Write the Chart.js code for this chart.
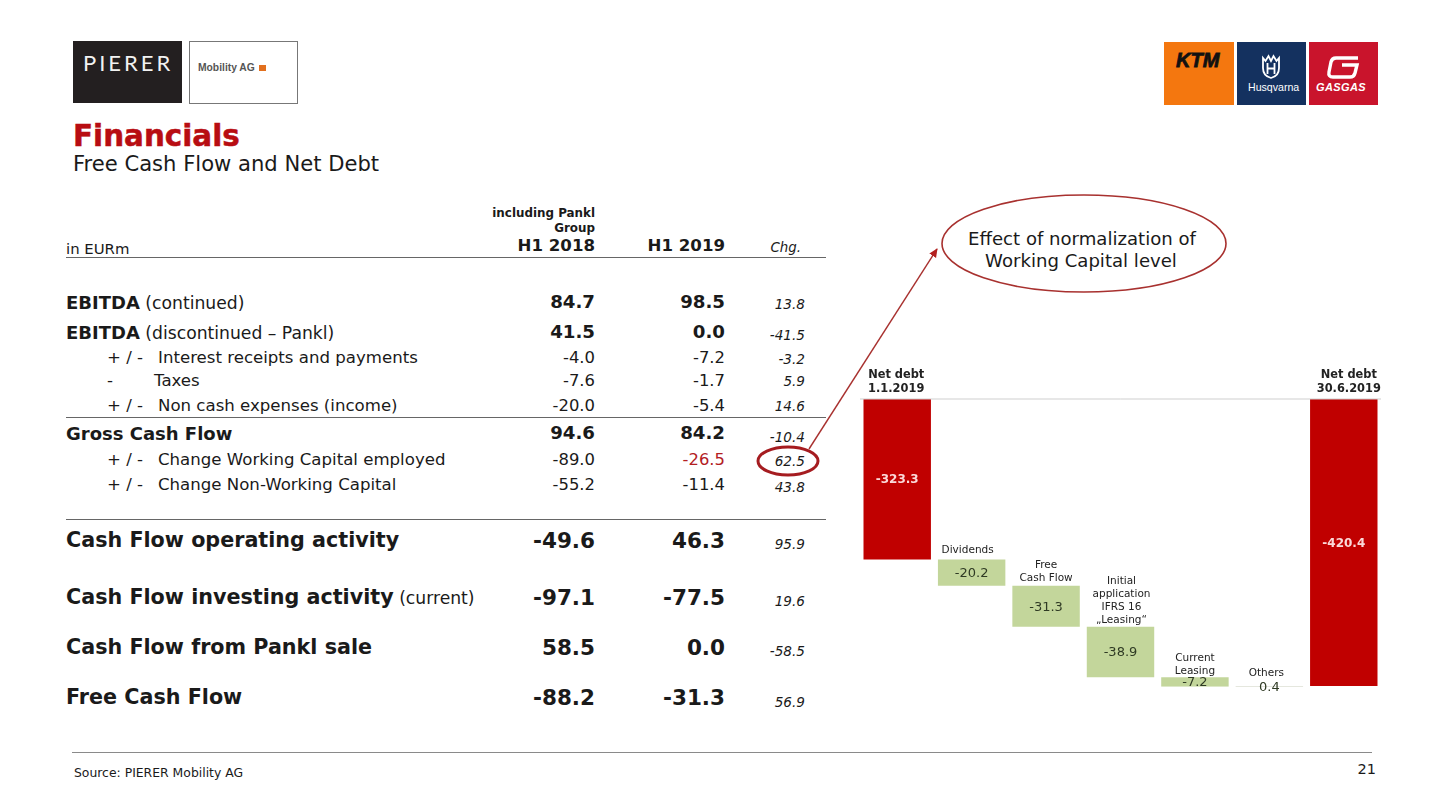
<!DOCTYPE html>
<html>
<head>
<meta charset="utf-8">
<title>Financials</title>
<script src="https://cdn.jsdelivr.net/npm/chart.js@4"></script>
<style>
  html, body { margin: 0; padding: 0; background: #fff; }
  #slide { position: relative; width: 1440px; height: 810px; overflow: hidden; font-family: "DejaVu Sans", Verdana, sans-serif; color: #1a1a1a; }
  #slide div.t { position: absolute; white-space: pre; line-height: 1; }
  #slide div.box { position: absolute; box-sizing: border-box; }
  #chartWrap { position: absolute; left: 850px; top: 360px; width: 540px; height: 340px; }
  svg { position: absolute; left: 0; top: 0; }
</style>
</head>
<body>
<div id="slide">
  <svg id="shapes" width="1440" height="810">
    <defs>
      <marker id="head" markerWidth="9" markerHeight="9" refX="8" refY="4" orient="auto" markerUnits="userSpaceOnUse">
        <path d="M0,0 L9,4 L0,8 Z" fill="#b3201f"></path>
      </marker>
    </defs>
    <ellipse cx="1084" cy="243.5" rx="142" ry="48.5" fill="none" stroke="#a8312f" stroke-width="1.6"></ellipse>
    <ellipse cx="788" cy="461" rx="30" ry="14" fill="none" stroke="#a51c20" stroke-width="3"></ellipse>
    <line x1="809" y1="449" x2="937" y2="249" stroke="#a8312f" stroke-width="1.4" marker-end="url(#head)"></line>
    <line x1="66" y1="257.5" x2="826" y2="257.5" stroke="#666" stroke-width="1"></line>
    <line x1="66" y1="417.5" x2="826" y2="417.5" stroke="#666" stroke-width="1"></line>
    <line x1="66" y1="519.5" x2="826" y2="519.5" stroke="#666" stroke-width="1"></line>
    <line x1="72" y1="752.5" x2="1372" y2="752.5" stroke="#8a8a8a" stroke-width="1"></line>
    <!-- husqvarna / gasgas marks -->
    <path d="M1263,68 v-10 l2.5,3 l3,-5 l2.5,5 l2.5,-5 l3,5 l2.5,-3 v10 q0,8 -8,10 q-8,-2 -8,-10 Z" fill="none" stroke="#fff" stroke-width="1.8"></path>
    <path d="M1267.5,63 v11 M1274.5,63 v11 M1267.5,68.5 h7" fill="none" stroke="#fff" stroke-width="1.8"></path>
    <path d="M1358,58 h-22 q-4,0 -5,4 l-2,10 q-1,5 4,5 h17 q4,0 5,-4 l2,-8 h-15" fill="none" stroke="#fff" stroke-width="3.4"></path>
  </svg>
  <div id="chartWrap"><canvas id="waterfall" width="540" height="340"></canvas></div>
</div>
<script>
// table
const rowLabels = [
  'EBITDA', 'EBITDA', 'Interest receipts and payments', 'Taxes', 'Non cash expenses (income)',
  'Gross Cash Flow', 'Change Working Capital employed', 'Change Non-Working Capital',
  'Cash Flow operating activity', 'Cash Flow investing activity', 'Cash Flow from Pankl sale', 'Free Cash Flow'
];
const rowSuffix = [' (continued)', ' (discontinued – Pankl)', '', '', '', '', '', '', '', ' (current)', '', ''];
const rowPrefix = ['', '', '+ / -', '-', '+ / -', '', '+ / -', '+ / -', '', '', '', ''];
const h1_2018 = ['84.7', '41.5', '-4.0', '-7.6', '-20.0', '94.6', '-89.0', '-55.2', '-49.6', '-97.1', '58.5', '-88.2'];
const h1_2019 = ['98.5', '0.0', '-7.2', '-1.7', '-5.4', '84.2', '-26.5', '-11.4', '46.3', '-77.5', '0.0', '-31.3'];
const change = ['13.8', '-41.5', '-3.2', '5.9', '14.6', '-10.4', '62.5', '43.8', '95.9', '19.6', '-58.5', '56.9'];

// waterfall
const categories = [
  ['Net debt', '1.1.2019'], ['Dividends'], ['Free', 'Cash Flow'],
  ['Initial', 'application', 'IFRS 16', '„Leasing“'], ['Current', 'Leasing'], ['Others'], ['Net debt', '30.6.2019']
];
const netDebtStart = -323.3;
const movements = [-20.2, -31.3, -38.9, -7.2, 0.4];
const netDebtEnd = -420.4;
const axisBreak = -200; // the two totals are cut off at the top in the original

// layout of the table
const rowY = [303, 333, 358, 381, 406, 434, 460, 485, 540.5, 597.5, 647.5, 697.5];
const rowStyle = ['b', 'b', 'n', 'n', 'n', 'b', 'n', 'n', 'l', 'l', 'l', 'l'];
const chgY = [305, 336, 360, 382, 407, 438, 462, 488, 545, 602, 652, 703];

const slide = document.getElementById('slide');
const shapes = document.getElementById('shapes');

function text(str, x, y, size, opts = {}) {
  const el = document.createElement('div');
  el.className = 't';
  el.textContent = str;
  el.style.fontSize = size + 'px';
  el.style.top = (y - size / 2) + 'px';
  if (opts.right) el.style.right = (1440 - x) + 'px';
  else el.style.left = x + 'px';
  if (opts.bold) el.style.fontWeight = 'bold';
  if (opts.italic) el.style.fontStyle = 'italic';
  if (opts.color) el.style.color = opts.color;
  if (opts.spacing) el.style.letterSpacing = opts.spacing + 'px';
  if (opts.family) el.style.fontFamily = opts.family;
  if (opts.stroke) el.style.webkitTextStroke = opts.stroke + 'px';
  slide.appendChild(el);
  return el;
}

function box(x, y, w, h, bg, border) {
  const el = document.createElement('div');
  el.className = 'box';
  el.style.cssText = `left:${x}px;top:${y}px;width:${w}px;height:${h}px;background:${bg};` + (border ? `border:1px solid ${border};` : '');
  slide.insertBefore(el, shapes);
}

// logos
box(73, 41, 109, 62, '#231f20');
box(189, 41, 109, 63, '#fff', '#777');
box(259, 65, 7, 6, '#e2701e');
box(1164, 42, 70, 63, '#f4770f');
box(1237, 42, 69, 63, '#14315f');
box(1309, 42, 69, 63, '#c9142c');
text('PIERER', 83, 63, 22, { color: '#f2f2f2', spacing: 3, family: 'Lato' });
text('Mobility AG', 198, 68, 10.3, { bold: true, color: '#555', family: 'Liberation Sans' });
text('KTM', 1176, 60, 20, { bold: true, italic: true, color: '#111', family: 'Liberation Sans', stroke: 0.8 });
text('Husqvarna', 1248, 87, 10.6, { color: '#fff', family: 'Liberation Sans' });
text('GASGAS', 1316, 87, 11, { bold: true, italic: true, color: '#fff', family: 'Liberation Sans', spacing: 0.4 });

// heading
text('Financials', 73, 137, 29.4, { bold: true, color: '#b80d12', stroke: 0.5 });
text('Free Cash Flow and Net Debt', 73, 164, 21.1);

// table header
text('including Pankl', 595, 214, 11.9, { right: true, bold: true });
text('Group', 595, 228.5, 11.9, { right: true, bold: true });
text('in EURm', 66, 249, 14.9);
text('H1 2018', 595, 246, 16.6, { right: true, bold: true });
text('H1 2019', 725, 246, 16.6, { right: true, bold: true });
text('Chg.', 801, 248, 13.4, { right: true, italic: true });

// table rows
rowLabels.forEach((label, i) => {
  const style = rowStyle[i];
  const y = rowY[i];
  const bold = style !== 'n';
  const size = style === 'l' ? 20.7 : 18;
  const numSize = style === 'l' ? 21.5 : (style === 'b' ? 18.2 : 16.4);
  if (rowPrefix[i]) {
    text(rowPrefix[i], 107, y, 16.6);
    text(label, rowPrefix[i] === '-' ? 154 : 158, y, 16.6);
  } else {
    const el = text(label, 66, y, size, { bold });
    if (rowSuffix[i]) {
      const span = document.createElement('span');
      span.textContent = rowSuffix[i];
      span.style.fontWeight = 'normal';
      span.style.fontSize = '17.2px';
      el.appendChild(span);
    }
  }
  const numY = style === 'b' ? y - 0.5 : y + 0.5;
  text(h1_2018[i], 595, numY, numSize, { right: true, bold });
  text(h1_2019[i], 725, numY, numSize, { right: true, bold, color: i === 6 ? '#b3201f' : undefined });
  text(change[i], 805, chgY[i], 13.6, { right: true, italic: true });
});

// callout and footer
text('Effect of normalization of', 1082, 239.5, 18.1).style.transform = 'translateX(-50%)';
text('Working Capital level', 1081, 261.5, 18.1).style.transform = 'translateX(-50%)';
text('Source: PIERER Mobility AG', 74, 773, 12.4);
text('21', 1376, 769, 14.5, { right: true });

// floating bars, each movement starts where the last one ended
const barValues = [netDebtStart, ...movements, netDebtEnd];
let running = netDebtStart;
const floating = [[axisBreak, netDebtStart]];
movements.forEach(m => {
  floating.push([running, running + m]);
  running += m;
});
floating.push([axisBreak, netDebtEnd]);

const isTotal = i => i === 0 || i === barValues.length - 1;

// small offsets of the labels above the bars, as in the original
const labelShiftX = [-1, -4, 0, 1, 0, -3, 5];
const labelShiftY = [0, 0, 2, 3, 3, -1, 0];

const waterfallLabels = {
  id: 'waterfallLabels',
  afterDatasetsDraw(chart) {
    const { ctx, scales: { x, y } } = chart;
    const meta = chart.getDatasetMeta(0);
    ctx.save();

    // line along the top of the chart
    ctx.strokeStyle = '#cfcfcf';
    ctx.lineWidth = 1;
    ctx.beginPath();
    ctx.moveTo(x.left, y.getPixelForValue(axisBreak));
    ctx.lineTo(x.right, y.getPixelForValue(axisBreak));
    ctx.stroke();

    ctx.textAlign = 'center';
    categories.forEach((lines, i) => {
      const cx = meta.data[i].x;
      const top = Math.min(y.getPixelForValue(floating[i][0]), y.getPixelForValue(floating[i][1]));
      const total = isTotal(i);
      const lineH = total ? 14.5 : 13;
      const last = (i === 5 ? top - 8 : top - 5) + labelShiftY[i];
      ctx.font = (total ? 'bold 11.4px' : '10.5px') + ' "DejaVu Sans"';
      ctx.fillStyle = '#222';
      ctx.textBaseline = 'bottom';
      lines.forEach((line, k) => {
        ctx.fillText(line, cx + labelShiftX[i], last - (lines.length - 1 - k) * lineH + 1);
      });

      ctx.textBaseline = 'middle';
      ctx.font = (total ? 'bold 12px' : '13px') + ' "DejaVu Sans"';
      ctx.fillStyle = total ? '#fbd9d9' : '#2f3a24';
      const mid = (y.getPixelForValue(floating[i][0]) + y.getPixelForValue(floating[i][1])) / 2;
      ctx.fillText(barValues[i].toFixed(1), cx, mid + 1);
    });
    ctx.restore();
  }
};

new Chart(document.getElementById('waterfall'), {
  type: 'bar',
  data: {
    labels: categories,
    datasets: [{
      data: floating,
      backgroundColor: barValues.map((v, i) => isTotal(i) ? '#c00000' : (i === 5 ? '#b9bfa8' : '#c3d69b')),
      borderWidth: 0,
      borderSkipped: false,
      categoryPercentage: 1,
      barPercentage: 0.906
    }]
  },
  options: {
    responsive: false,
    animation: false,
    layout: { padding: { left: 10, right: 9, top: 39, bottom: 13.2 } },
    plugins: { legend: { display: false }, tooltip: { enabled: false } },
    scales: {
      x: { display: false },
      y: { display: false, min: -421, max: axisBreak }
    }
  },
  plugins: [waterfallLabels]
});
</script>
</body>
</html>
